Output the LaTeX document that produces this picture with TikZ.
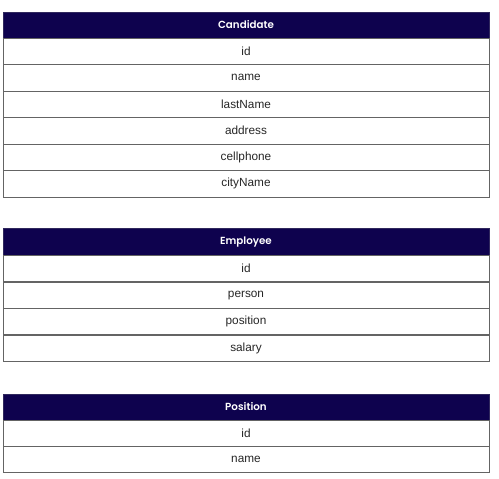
\documentclass[tikz,border=0pt]{standalone}
\usepackage{fontspec}
\setmainfont{Liberation Sans}
\newfontfamily\headfont{Poppins SemiBold}
\definecolor{hdr}{RGB}{14,2,78}
\definecolor{grid}{RGB}{100,100,100}
\begin{document}
\begin{tikzpicture}[x=1pt,y=-1pt,
  hdrbox/.style={fill=hdr,draw=hdr!70!gray,line width=0.6pt},
  rowbox/.style={draw=grid,line width=1pt},
  hdrtext/.style={text=white,font=\headfont\fontsize{10.3}{12}\selectfont},
  rowtext/.style={text=black!85,font=\fontsize{11.8}{13}\selectfont}]
\useasboundingbox (0,0) rectangle (499,479);
\def\L{3}\def\R{489}
% Candidate table
\draw[hdrbox] (\L,12) rectangle (\R,38);
\node[hdrtext] (cand) at (246,25) {Candidate};
\foreach \t/\nm [count=\i] in {38/id,64.5/name,91/lastName,117.5/address,144/cellphone,170.5/cityName}{
  \draw[rowbox] (\L,\t) rectangle (\R,\t+26.5);
  \node[rowtext] (c\i) at (246,\t+13.25) {\nm};
}
% Employee table
\draw[hdrbox] (\L,228.5) rectangle (\R,255.5);
\node[hdrtext] (emp) at (246,242) {Employee};
\foreach \t/\nm [count=\i] in {255.5/id,282/person,308.5/position,335/salary}{
  \draw[rowbox] (\L,\t) rectangle (\R,\t+26.3);
  \node[rowtext] (e\i) at (246,\t+13.15) {\nm};
}
% Position table
\draw[hdrbox] (\L,394) rectangle (\R,420);
\node[hdrtext] (pos) at (246,407) {Position};
\foreach \t/\nm [count=\i] in {420/id,446.5/name}{
  \draw[rowbox] (\L,\t) rectangle (\R,\t+26.3);
  \node[rowtext] (p\i) at (246,\t+13.15) {\nm};
}
\end{tikzpicture}
\end{document}
